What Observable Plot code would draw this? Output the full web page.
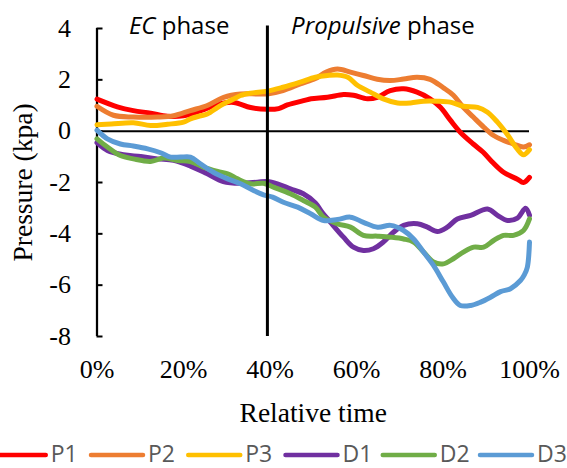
<!DOCTYPE html>
<html><head><meta charset="utf-8">
<script src="https://cdn.jsdelivr.net/npm/d3@7"></script>
<script src="https://cdn.jsdelivr.net/npm/@observablehq/plot@0.6"></script>
<style>
html,body{margin:0;padding:0;background:#fff;}
#chart svg,#legend svg{display:block;}
</style></head><body><div id="chart"></div><div id="legend"></div>
<script>
const seriesNames = ["P1","P2","P3","D1","D2","D3"];
const seriesColors = ["#FF0000","#ED7D31","#FFC000","#7030A0","#70AD47","#5B9BD5"];
const xTicks = [0,20,40,60,80,100];
const yTicks = [4,2,0,-2,-4,-6,-8];
const phaseBoundary = 39.4;
const phaseLabels = [{label:"EC phase", italic:"EC", rest:" phase", x:19}, {label:"Propulsive phase", italic:"Propulsive", rest:" phase", x:66.1}];

const p1Time = [0,4.7,8.4,12.4,16.3,20,24,28,31.6,35.5,39.4,42,44,48,49.5,53.3,57,59.3,62.5,64.8,67.8,70.9,74,77,79.4,81.7,84,87,89.3,91,94,97.2,98.6,100];
const p1Pressure = [1.25,0.95,0.8,0.7,0.58,0.6,0.8,1.05,1.12,0.92,0.85,0.88,1.02,1.2,1.26,1.32,1.43,1.4,1.26,1.32,1.58,1.65,1.52,1.26,0.93,0.43,-0.04,-0.5,-0.82,-1.13,-1.6,-1.87,-2.0,-1.8];
const p2Time = [0,3.8,8.4,14,17.7,21.6,25.5,29.3,33.2,37,39.4,43,47,50.5,53,55.6,58.6,61.6,64.8,67.8,70.9,74,77,80,82.4,84.7,87,89.4,91.7,94,96.3,98.6,100];
const p2Pressure = [0.97,0.62,0.55,0.55,0.6,0.8,1.0,1.32,1.45,1.45,1.45,1.58,1.84,2.05,2.3,2.42,2.3,2.17,2.02,1.97,2.03,2.1,2.02,1.7,1.4,0.93,0.55,0.16,-0.17,-0.36,-0.5,-0.62,-0.53];
const p3Time = [0,3.3,8.4,12.4,16.3,20,21.6,24,25.5,27.9,29.2,31.6,33.2,35.5,39.4,43,47,50.5,53.3,55.6,58,60.2,63.2,66.2,69.5,72.5,75.5,78.7,81.7,84.7,88,90.3,92.6,95,97.2,98.6,100];
const p3Pressure = [0.25,0.28,0.33,0.22,0.27,0.35,0.48,0.6,0.67,0.93,1.06,1.25,1.39,1.48,1.56,1.71,1.91,2.1,2.17,2.19,2.1,1.79,1.52,1.26,1.1,1.1,1.17,1.17,1.13,0.97,0.93,0.74,0.35,-0.16,-0.7,-0.92,-0.72];
const d1Time = [0,2.4,6.1,10.1,14,17.7,21.6,25.5,29.2,33.2,37.1,39.4,41.7,44.7,47.7,50.5,52,54,57,59.3,61.6,63.9,66.2,68.6,70.9,74.1,76.4,78.7,81,83.3,86.4,90.3,92.6,94.9,97.2,99.1,100];
const d1Pressure = [-0.45,-0.75,-0.92,-0.99,-1.08,-1.14,-1.36,-1.66,-1.96,-2.03,-1.99,-1.96,-2.05,-2.25,-2.44,-2.8,-3.15,-3.55,-4.13,-4.52,-4.65,-4.58,-4.32,-3.93,-3.67,-3.61,-3.74,-3.91,-3.74,-3.42,-3.28,-3.03,-3.28,-3.48,-3.39,-3.0,-3.28];
const d2Time = [0,2.4,5.4,8.4,12.4,15.4,18.6,21.6,24.6,27.9,30.2,32.5,35.5,38.5,40.8,44.7,47.7,50.5,52.4,55.6,58.6,61.6,64.9,67.9,70.9,73.2,75.5,77.8,80.1,82.4,84.7,87.1,89.4,91.7,94,96.3,98.6,100];
const d2Pressure = [-0.3,-0.62,-0.95,-1.08,-1.18,-1.05,-1.14,-1.18,-1.4,-1.57,-1.66,-1.86,-2.05,-2.03,-2.18,-2.44,-2.7,-2.96,-3.35,-3.61,-3.74,-4.06,-4.09,-4.13,-4.2,-4.32,-4.71,-5.1,-5.17,-4.97,-4.71,-4.52,-4.52,-4.26,-4.06,-4.06,-3.87,-3.42];
const d3Time = [0,2.4,5.4,8.4,11.7,14.7,17,19.3,21.6,23.9,26.9,30.2,33.2,36.2,38.5,40.6,43.1,46.4,49.4,52.4,55.6,58.6,61.6,64.9,67.9,70.9,73.2,75.5,77.8,80.1,82.2,84,86.4,88.7,91,93.3,95.6,97.9,98.8,99.5,100];
const d3Pressure = [0.04,-0.3,-0.5,-0.58,-0.69,-0.84,-1.01,-1.01,-1.01,-1.27,-1.6,-1.86,-2.05,-2.31,-2.48,-2.57,-2.77,-2.96,-3.22,-3.48,-3.44,-3.35,-3.55,-3.74,-3.67,-3.87,-4.2,-4.71,-5.23,-5.88,-6.47,-6.79,-6.79,-6.66,-6.47,-6.25,-6.14,-5.82,-5.6,-5.3,-4.32];

const seriesTimes = [p1Time,p2Time,p3Time,d1Time,d2Time,d3Time];
const seriesPressures = [p1Pressure,p2Pressure,p3Pressure,d1Pressure,d2Pressure,d3Pressure];
const rows = [];
seriesNames.forEach((name,i) => seriesTimes[i].forEach((t,j) => rows.push({series:name, time:t, pressure:seriesPressures[i][j]})));

const W = 567, H = 434;
const mL = 96.5, mR = 38, mT = 28, mB = 98;
const serif = "'Liberation Serif','Times New Roman',serif";
const sans = "'Open Sans','Noto Sans',sans-serif";

const chart = Plot.plot({
  width: W, height: H,
  marginLeft: mL, marginRight: mR, marginTop: mT, marginBottom: mB,
  style: {background:"#fff", color:"#000", overflow:"visible"},
  x: {domain:[0,100]},
  y: {domain:[-8,4]},
  color: {domain: seriesNames, range: seriesColors},
  marks: [
    Plot.axisX(xTicks, {tickSize:0, tickPadding:23, fontSize:26, fontFamily:serif, tickFormat: d => d + "%", label:null, fill:"#000"}),
    Plot.axisY(yTicks, {tickSize:0, tickPadding:26, fontSize:26, fontFamily:serif, tickFormat: d => String(d), label:null, fill:"#000"}),
    Plot.ruleY([0], {stroke:"#000", strokeWidth:2}),
    Plot.ruleY(yTicks, {stroke:"#000", strokeWidth:2, insetRight:(W-mL-mR)-6}),
    Plot.ruleX([0], {y1:-8, y2:4, stroke:"#000", strokeWidth:2.25}),
    Plot.line(rows, {x:"time", y:"pressure", z:"series", stroke:"series", strokeWidth:5, strokeLinecap:"round", strokeLinejoin:"round", curve:"catmull-rom"}),
    Plot.ruleX([phaseBoundary], {y1:-8, y2:4.1, stroke:"#000", strokeWidth:3}),
    Plot.text(phaseLabels, {x:"x", text:"label", frameAnchor:"top", lineAnchor:"bottom", dy:5, fontSize:24, fontFamily:sans, fill:"#000"}),
    Plot.text(["Pressure (kpa)"], {text: d => d, frameAnchor:"left", textAnchor:"middle", lineAnchor:"middle", rotate:-90, dx:-74, fontSize:27.5, fontFamily:serif, fill:"#000"}),
    Plot.text(["Relative time"], {text: d => d, frameAnchor:"bottom", textAnchor:"middle", lineAnchor:"middle", dy:77, fontSize:27.5, fontFamily:serif, fill:"#000"})
  ]
});
document.getElementById("chart").appendChild(chart);

// mixed italic/normal phase labels
d3.select(chart).selectAll("text").each(function(){
  const lab = phaseLabels.find(p => p.label === this.textContent);
  if (lab) {
    const t = d3.select(this);
    t.text(null).style("white-space","pre");
    t.append("tspan").attr("font-style","italic").text(lab.italic);
    t.append("tspan").text(lab.rest);
  }
});

// legend
const LH = 468 - H;
const legendSvg = d3.select("#legend").append("svg").attr("width", W).attr("height", LH);
const itemW = 97.25;
const start = (W - itemW * seriesNames.length) / 2;
seriesNames.forEach((name,i) => {
  const x0 = start + i * itemW;
  legendSvg.append("line").attr("x1", x0+2).attr("x2", x0+54).attr("y1", LH-13).attr("y2", LH-13)
    .attr("stroke", seriesColors[i]).attr("stroke-width", 4.5).attr("stroke-linecap","round");
  legendSvg.append("text").attr("x", x0+59).attr("y", LH-6.5).attr("font-family", sans).attr("font-size", 23)
    .attr("fill", "#595959").text(name);
});
</script>
</body></html>
